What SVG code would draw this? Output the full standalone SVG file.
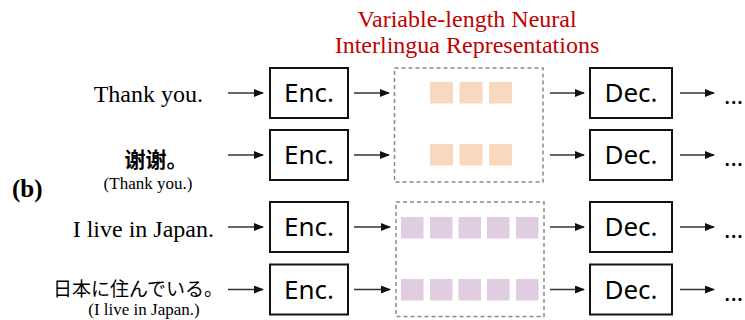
<svg xmlns="http://www.w3.org/2000/svg" width="745" height="320" viewBox="0 0 745 320">
  <style>
    .box { fill: #fff; stroke: #111; stroke-width: 2; }
    .grp { fill: none; stroke: #8a8a8a; stroke-width: 1.5; stroke-dasharray: 4 3; }
    .lbl { font-family: "Noto Sans", "Liberation Sans", sans-serif; font-size: 26px; fill: #000; text-anchor: middle; }
    .src { font-family: "Liberation Serif", "Times New Roman", serif; font-size: 24px; fill: #000; }
    .gloss { font-family: "Liberation Serif", "Times New Roman", serif; font-size: 17px; fill: #000; text-anchor: middle; }
    .title { font-family: "Liberation Serif", "Times New Roman", serif; font-size: 24px; fill: #c00000; text-anchor: middle; }
    .dots { font-family: "Noto Sans", "Liberation Sans", sans-serif; font-size: 24px; fill: #000; }
    .conn line { stroke: #333; stroke-width: 1.4; marker-end: url(#head); }
    .orange rect { fill: #f8d9c0; }
    .purple rect { fill: #e0cde1; }
  </style>
  <defs>
    <marker id="head" markerWidth="10" markerHeight="8" refX="9" refY="4" orient="auto" markerUnits="userSpaceOnUse">
      <path d="M0,0 L10,4 L0,8 Z" fill="#111"/>
    </marker>
  </defs>

  <!-- heading -->
  <g id="title">
    <text class="title" x="467" y="27">Variable-length Neural</text>
    <text class="title" x="467" y="53">Interlingua Representations</text>
  </g>

  <text id="panel-label" x="12" y="197" font-family="Liberation Serif, serif" font-size="25" font-weight="bold">(b)</text>

  <!-- source sentences -->
  <g id="src-en-1"><text class="src" x="203" y="102" text-anchor="end">Thank you.</text></g>
  <g id="src-zh">
    <text x="156" y="167" font-family="Noto Sans CJK SC, sans-serif" font-size="21" font-weight="bold" text-anchor="middle">谢谢。</text>
    <text class="gloss" x="148" y="189">(Thank you.)</text>
  </g>
  <g id="src-en-2"><text class="src" x="214" y="237" text-anchor="end">I live in Japan.</text></g>
  <g id="src-ja">
    <text x="53" y="296" font-family="Noto Sans CJK JP, sans-serif" font-size="19">日本に住んでいる。</text>
    <text class="gloss" x="144" y="315">(I live in Japan.)</text>
  </g>

  <!-- encoders -->
  <g id="enc-1"><rect class="box" x="270" y="68" width="78" height="50"/><text class="lbl" x="309" y="102">Enc.</text></g>
  <g id="enc-2"><rect class="box" x="270" y="130" width="78" height="50"/><text class="lbl" x="309" y="164">Enc.</text></g>
  <g id="enc-3"><rect class="box" x="270" y="202" width="78" height="50"/><text class="lbl" x="309" y="236">Enc.</text></g>
  <g id="enc-4"><rect class="box" x="270" y="264.5" width="78" height="50"/><text class="lbl" x="309" y="298.5">Enc.</text></g>

  <!-- interlingua groups -->
  <g id="interlingua-short">
    <rect class="grp" x="394.5" y="68" width="148.5" height="114"/>
    <g class="orange">
      <rect x="430" y="82" width="23" height="21.5"/>
      <rect x="459.5" y="82" width="23" height="21.5"/>
      <rect x="489" y="82" width="23" height="21.5"/>
      <rect x="430" y="144" width="23" height="21.5"/>
      <rect x="459.5" y="144" width="23" height="21.5"/>
      <rect x="489" y="144" width="23" height="21.5"/>
    </g>
  </g>
  <g id="interlingua-long">
    <rect class="grp" x="396" y="202" width="148" height="114.5"/>
    <g class="purple">
      <rect x="401" y="217" width="22.5" height="21.5"/>
      <rect x="430" y="217" width="22.5" height="21.5"/>
      <rect x="458.5" y="217" width="22.5" height="21.5"/>
      <rect x="487" y="217" width="22.5" height="21.5"/>
      <rect x="516" y="217" width="22.5" height="21.5"/>
      <rect x="401" y="279" width="22.5" height="21.5"/>
      <rect x="430" y="279" width="22.5" height="21.5"/>
      <rect x="458.5" y="279" width="22.5" height="21.5"/>
      <rect x="487" y="279" width="22.5" height="21.5"/>
      <rect x="516" y="279" width="22.5" height="21.5"/>
    </g>
  </g>

  <!-- decoders -->
  <g id="dec-1"><rect class="box" x="590" y="68" width="82" height="50"/><text class="lbl" x="631" y="102">Dec.</text></g>
  <g id="dec-2"><rect class="box" x="590" y="130" width="82" height="50"/><text class="lbl" x="631" y="164">Dec.</text></g>
  <g id="dec-3"><rect class="box" x="590" y="202" width="82" height="50"/><text class="lbl" x="631" y="236">Dec.</text></g>
  <g id="dec-4"><rect class="box" x="590" y="264.5" width="82" height="50"/><text class="lbl" x="631" y="298.5">Dec.</text></g>

  <!-- trailing outputs -->
  <g id="out-1"><text class="dots" x="724" y="104">...</text></g>
  <g id="out-2"><text class="dots" x="724" y="166">...</text></g>
  <g id="out-3"><text class="dots" x="724" y="238">...</text></g>
  <g id="out-4"><text class="dots" x="724" y="300.5">...</text></g>

  <!-- connectors -->
  <g id="connectors" class="conn">
    <line x1="228" y1="93" x2="263" y2="93"/>
    <line x1="228" y1="155" x2="263" y2="155"/>
    <line x1="228" y1="227" x2="263" y2="227"/>
    <line x1="228" y1="289.5" x2="263" y2="289.5"/>

    <line x1="354" y1="93" x2="389" y2="93"/>
    <line x1="354" y1="155" x2="389" y2="155"/>
    <line x1="354" y1="227" x2="390" y2="227"/>
    <line x1="354" y1="289.5" x2="390" y2="289.5"/>

    <line x1="550" y1="93" x2="584" y2="93"/>
    <line x1="550" y1="155" x2="584" y2="155"/>
    <line x1="550" y1="227" x2="584" y2="227"/>
    <line x1="550" y1="289.5" x2="584" y2="289.5"/>

    <line x1="680" y1="93" x2="714" y2="93"/>
    <line x1="680" y1="155" x2="714" y2="155"/>
    <line x1="680" y1="227" x2="714" y2="227"/>
    <line x1="680" y1="289.5" x2="714" y2="289.5"/>
  </g>
</svg>
